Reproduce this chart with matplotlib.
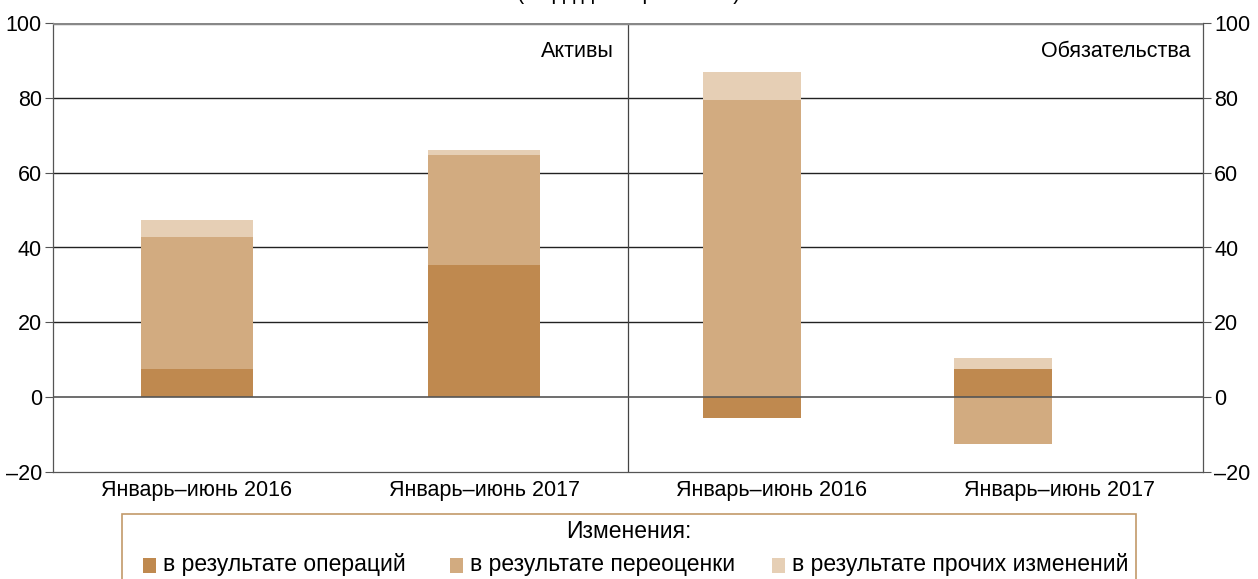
import matplotlib
matplotlib.use("Agg")
import matplotlib.pyplot as plt
from matplotlib.patches import Rectangle
import numpy as np

plt.rcParams['font.family'] = ['Liberation Sans Narrow', 'Liberation Sans', 'DejaVu Sans']

categories = ["Январь–июнь 2016", "Январь–июнь 2017", "Январь–июнь 2016", "Январь–июнь 2017"]
operations = [7.5, 35.3, -5.6, 7.5]
revaluation = [35.3, 29.4, 79.4, -12.5]
other = [4.5, 1.3, 7.5, 2.9]
series_names = ["в результате операций", "в результате переоценки", "в результате прочих изменений"]
panel_names = ["Активы", "Обязательства"]
legend_title = "Изменения:"
subtitle = "(млрд долларов США)"
yticks = [-20, 0, 20, 40, 60, 80, 100]

colors = ["#BF894F", "#D2AB80", "#E6CFB5"]
bar_offsets = [0.0, 0.0, -0.07, -0.195]
bar_widths = [0.39, 0.39, 0.34, 0.34]
FS = 15.5
FS_LEG = 16.5

fig = plt.figure(figsize=(12.58, 5.79), dpi=100)
ax = fig.add_axes([53/1258, 1-472/579, (1203-53)/1258, (472-23)/579])

x = np.arange(len(categories)) + 0.5
xb = x + np.array(bar_offsets)
ops = np.array(operations)
rev = np.array(revaluation)
oth = np.array(other)

# stacking: positives stack upward, negatives downward
pos_base = np.zeros(len(x))
neg_base = np.zeros(len(x))
for vals, c in zip([ops, rev, oth], colors):
    bottoms = np.where(vals >= 0, pos_base, neg_base)
    ax.bar(xb, vals, width=bar_widths, bottom=bottoms, color=c, zorder=2, linewidth=0)
    pos_base = pos_base + np.where(vals >= 0, vals, 0)
    neg_base = neg_base + np.where(vals < 0, vals, 0)

ax.set_xlim(0, 4)
ax.set_ylim(-20, 100)
ax.set_yticks(yticks)
ax.set_yticklabels([str(t).replace('-', '–') for t in yticks])
ax.set_xticks(x)
ax.set_xticklabels(categories)
ax.tick_params(axis='x', length=0, labelsize=FS, pad=6)
ax.tick_params(axis='y', which='both', left=True, right=True, labelleft=True,
               labelright=True, length=6, width=0.8, color='#555555', labelsize=FS, pad=2)

for t in [20, 40, 60, 80]:
    ax.axhline(t, color='#222222', lw=1.0, zorder=1)
ax.axhline(0, color='#555555', lw=1.2, zorder=3)
ax.axhline(100, color='#888888', lw=2.5, zorder=3)
ax.axvline(2, color='#444444', lw=0.9, zorder=1)

for s in ['left', 'right']:
    ax.spines[s].set_color('#555555')
    ax.spines[s].set_linewidth(0.9)
ax.spines['top'].set_visible(False)
ax.spines['bottom'].set_color('#555555')
ax.spines['bottom'].set_linewidth(0.9)

ax.text(1.95, 92.5, panel_names[0], ha='right', va='center', fontsize=FS)
ax.text(3.955, 92.5, panel_names[1], ha='right', va='center', fontsize=FS)

fig.text(0.5, 1 + 1/579, subtitle, ha='center', va='baseline', fontsize=FS)

# legend box
lx0, lx1 = 122/1258, 1136/1258
ly_top = 1 - 514/579
fig.patches.append(Rectangle((lx0, -0.1), lx1 - lx0, ly_top + 0.1, transform=fig.transFigure,
                             facecolor='none', edgecolor='#C29A6A', lw=1.2))
fig.text(0.5, 1 - 531/579, legend_title, ha='center', va='center', fontsize=FS_LEG)
sq_x = [143, 450, 772]
for sx, name, c in zip(sq_x, series_names, colors):
    fig.patches.append(Rectangle((sx/1258, 1 - 573/579), 13/1258, 15/579,
                                 transform=fig.transFigure, facecolor=c, edgecolor='none'))
    fig.text((sx + 20)/1258, 1 - 565/579, name, ha='left', va='center', fontsize=FS_LEG)

fig.savefig("out.png", dpi=100)
